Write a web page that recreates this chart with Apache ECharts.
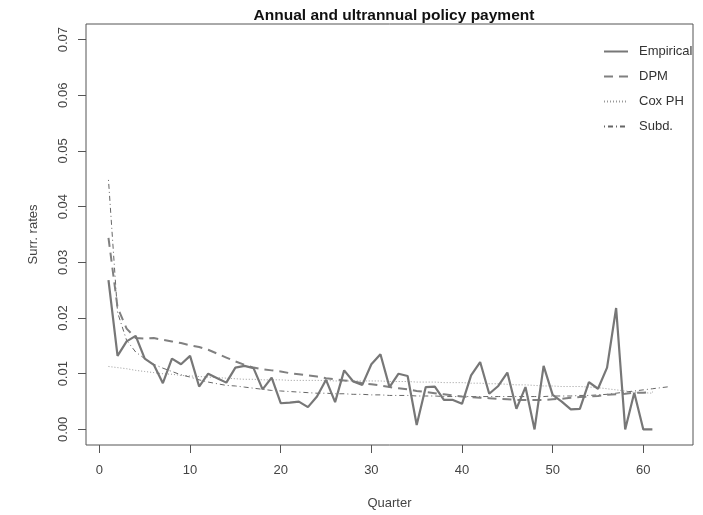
<!DOCTYPE html>
<html>
<head>
<meta charset="utf-8">
<script src="https://cdn.jsdelivr.net/npm/echarts@6/dist/echarts.min.js"></script>
<style>
  html, body { margin: 0; padding: 0; background: #fff; }
  #chart { width: 703px; height: 515px; }
</style>
</head>
<body>
<div id="chart"></div>
<script>
// Quarterly surrender rates for annual and ultrannual policy payment
const empiricalQuarters = Array.from({ length: 61 }, (_, i) => i + 1);
const empirical = [
  0.0268, 0.0132, 0.0158, 0.0168, 0.0127, 0.0116, 0.0083, 0.0127, 0.0117, 0.0132,
  0.0077, 0.0100, 0.0092, 0.0084, 0.0111, 0.0114, 0.0110, 0.0072, 0.0093, 0.0047,
  0.0048, 0.0050, 0.0040, 0.0059, 0.0089, 0.0049, 0.0106, 0.0086, 0.0080, 0.0117,
  0.0135, 0.0076, 0.0100, 0.0096, 0.0008, 0.0076, 0.0077, 0.0053, 0.0053, 0.0046,
  0.0097, 0.0121, 0.0064, 0.0078, 0.0102, 0.0037, 0.0076, 0.0000, 0.0114, 0.0062,
  0.0050, 0.0036, 0.0037, 0.0085, 0.0073, 0.0111, 0.0218, 0.0000, 0.0066, 0.0000,
  0.0000
];

const modelQuarters = Array.from({ length: 61 }, (_, i) => i + 1);
const dpm = [
  0.0344, 0.0219, 0.0181, 0.0164, 0.0163, 0.0164, 0.0161, 0.0158, 0.0155, 0.0151,
  0.0148, 0.0143, 0.0136, 0.0129, 0.0122, 0.0116, 0.0111, 0.0108, 0.0106, 0.0104,
  0.0101, 0.0099, 0.0097, 0.0095, 0.0092, 0.0090, 0.0088, 0.0086, 0.0083, 0.0081,
  0.0079, 0.0076, 0.0074, 0.0072, 0.0069, 0.0067, 0.0065, 0.0063, 0.0061, 0.0059,
  0.0058, 0.0057, 0.0056, 0.0055, 0.0054, 0.0053, 0.0053, 0.0053, 0.0053, 0.0054,
  0.0055, 0.0057, 0.0058, 0.0059, 0.0060, 0.0062, 0.0063, 0.0064, 0.0066, 0.0066,
  0.0067
];
const coxPH = [
  0.0113, 0.0111, 0.0109, 0.0106, 0.0104, 0.0102, 0.0100, 0.0099, 0.0097, 0.0096,
  0.0095, 0.0094, 0.0093, 0.0092, 0.0091, 0.0090, 0.0090, 0.0089, 0.0089, 0.0089,
  0.0088, 0.0088, 0.0088, 0.0088, 0.0088, 0.0087, 0.0087, 0.0087, 0.0087, 0.0087,
  0.0087, 0.0086, 0.0086, 0.0086, 0.0085, 0.0085, 0.0085, 0.0084, 0.0084, 0.0084,
  0.0083, 0.0083, 0.0082, 0.0082, 0.0081, 0.0080, 0.0080, 0.0079, 0.0078, 0.0078,
  0.0077, 0.0077, 0.0077, 0.0076, 0.0075, 0.0073, 0.0071, 0.0069, 0.0067, 0.0066,
  0.0065
];

const subdQuarters = Array.from({ length: 63 }, (_, i) => i + 1);
const subd = [
  0.0448, 0.0210, 0.0160, 0.0139, 0.0127, 0.0117, 0.0110, 0.0104, 0.0098, 0.0094,
  0.0089, 0.0085, 0.0082, 0.0079, 0.0078, 0.0076, 0.0074, 0.0072, 0.0070, 0.0069,
  0.0068, 0.0067, 0.0066, 0.0065, 0.0065, 0.0064, 0.0064, 0.0063, 0.0063, 0.0062,
  0.0062, 0.0061, 0.0061, 0.0061, 0.0060, 0.0060, 0.0060, 0.0059, 0.0059, 0.0059,
  0.0059, 0.0059, 0.0059, 0.0059, 0.0059, 0.0059, 0.0059, 0.0059, 0.0059, 0.0060,
  0.0060, 0.0060, 0.0061, 0.0061, 0.0062, 0.0063, 0.0065, 0.0067, 0.0069, 0.0071,
  0.0073, 0.0075, 0.0077
];

const xTicks = [0, 10, 20, 30, 40, 50, 60];
const yTicks = [0, 0.01, 0.02, 0.03, 0.04, 0.05, 0.06, 0.07];

const pairs = (xs, ys) => xs.map((x, i) => [x, ys[i]]);

const FONT = 'Liberation Sans, Arial, Helvetica, sans-serif';
const TEXT = '#444';

const chart = echarts.init(document.getElementById('chart'), null, { renderer: 'canvas' });

chart.setOption({
  animation: false,
  backgroundColor: '#fff',
  textStyle: { fontFamily: FONT },
  title: {
    text: 'Annual and ultrannual policy payment',
    left: 389,
    textAlign: 'center',
    top: 3,
    textStyle: { fontFamily: FONT, fontSize: 15.5, fontWeight: 'bold', color: '#111' }
  },
  grid: {
    left: 86, right: 10, top: 24, bottom: 66,
    show: true, borderColor: '#555', borderWidth: 1, backgroundColor: 'transparent'
  },
  legend: {
    orient: 'vertical',
    left: 598,
    top: 40,
    itemWidth: 24,
    itemHeight: 14,
    itemGap: 12,
    itemStyle: { opacity: 0 },
    textStyle: { fontFamily: FONT, fontSize: 13, color: '#333', padding: [0, 0, 0, 6] },
    data: ['Empirical', 'DPM', 'Cox PH', 'Subd.']
  },
  xAxis: {
    type: 'value',
    min: -1.48,
    max: 65.48,
    name: 'Quarter',
    nameLocation: 'middle',
    nameGap: 52,
    nameTextStyle: { fontFamily: FONT, fontSize: 13, color: TEXT },
    axisLine: { show: false, onZero: false },
    splitLine: { show: false },
    axisTick: {
      show: true, inside: false, length: 8,
      customValues: xTicks,
      lineStyle: { color: '#555', width: 1 }
    },
    axisLabel: {
      customValues: xTicks,
      margin: 19,
      fontFamily: FONT, fontSize: 13, color: TEXT
    }
  },
  yAxis: {
    type: 'value',
    min: -0.0028,
    max: 0.0728,
    name: 'Surr. rates',
    nameLocation: 'middle',
    nameGap: 46,
    nameRotate: 90,
    nameTextStyle: { fontFamily: FONT, fontSize: 13, color: TEXT },
    axisLine: { show: false, onZero: false },
    splitLine: { show: false },
    axisTick: {
      show: true, inside: false, length: 8,
      customValues: yTicks,
      lineStyle: { color: '#555', width: 1 }
    },
    axisLabel: {
      customValues: yTicks,
      rotate: 90,
      margin: 16,
      fontFamily: FONT, fontSize: 13, color: TEXT,
      formatter: v => v.toFixed(2)
    }
  },
  series: [
    {
      name: 'Empirical',
      type: 'line',
      data: pairs(empiricalQuarters, empirical),
      symbol: 'none',
      lineStyle: { color: '#777', width: 2.2, type: 'solid' },
      itemStyle: { color: '#777' },
      z: 4
    },
    {
      name: 'DPM',
      type: 'line',
      data: pairs(modelQuarters, dpm),
      symbol: 'none',
      lineStyle: { color: '#808080', width: 2, type: [9, 6] },
      itemStyle: { color: '#808080' },
      z: 3
    },
    {
      name: 'Cox PH',
      type: 'line',
      data: pairs(modelQuarters, coxPH),
      symbol: 'none',
      lineStyle: { color: '#999', width: 1, type: [1, 2] },
      itemStyle: { color: '#999' },
      z: 2
    },
    {
      name: 'Subd.',
      type: 'line',
      data: pairs(subdQuarters, subd),
      symbol: 'none',
      lineStyle: { color: '#666', width: 1, type: [1, 3, 5, 3] },
      itemStyle: { color: '#666' },
      z: 2
    }
  ]
});
</script>
</body>
</html>
